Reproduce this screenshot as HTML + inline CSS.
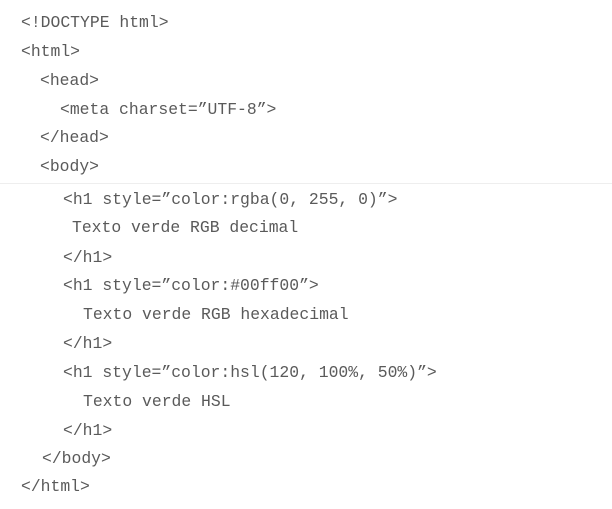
<!DOCTYPE html>
<html><head><meta charset="UTF-8"><style>
body{margin:0;width:612px;height:509px;background:#fff;position:relative;overflow:hidden}
div{position:absolute;font-family:"Liberation Mono",monospace;font-size:16.4px;color:#5a5a5a;white-space:pre;line-height:20px;transform:translateY(-10px)}
.hr{position:absolute;left:0;top:183px;width:612px;height:1px;background:#eee;transform:none}
</style></head><body>
<div style="left:21px;top:23px">&lt;!DOCTYPE html&gt;</div>
<div style="left:21px;top:52px">&lt;html&gt;</div>
<div style="left:40px;top:81px">&lt;head&gt;</div>
<div style="left:60px;top:110px">&lt;meta charset=”UTF-8”&gt;</div>
<div style="left:40px;top:138px">&lt;/head&gt;</div>
<div style="left:40px;top:167px">&lt;body&gt;</div>
<div class="hr"></div>
<div style="left:63px;top:200px">&lt;h1 style=”color:rgba(0, 255, 0)”&gt;</div>
<div style="left:72px;top:228px">Texto verde RGB decimal</div>
<div style="left:63px;top:258px">&lt;/h1&gt;</div>
<div style="left:63px;top:286px">&lt;h1 style=”color:#00ff00”&gt;</div>
<div style="left:83px;top:315px">Texto verde RGB hexadecimal</div>
<div style="left:63px;top:344px">&lt;/h1&gt;</div>
<div style="left:63px;top:373px">&lt;h1 style=”color:hsl(120, 100%, 50%)”&gt;</div>
<div style="left:83px;top:402px">Texto verde HSL</div>
<div style="left:63px;top:431px">&lt;/h1&gt;</div>
<div style="left:42px;top:459px">&lt;/body&gt;</div>
<div style="left:21px;top:487px">&lt;/html&gt;</div>
</body></html>
